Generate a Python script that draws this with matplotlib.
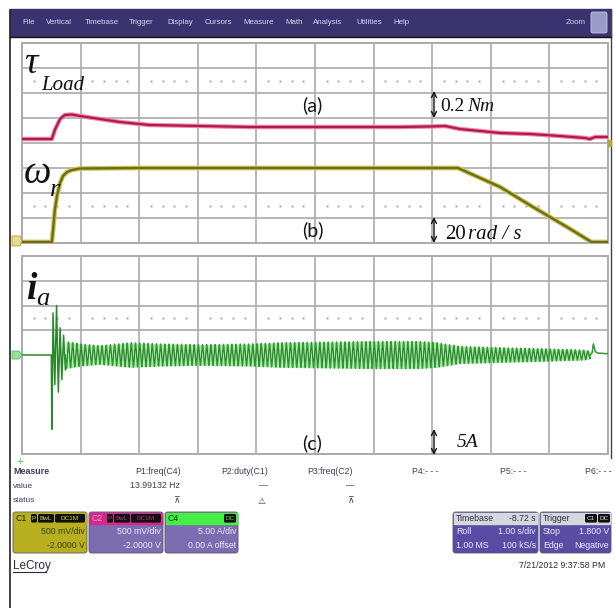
import numpy as np
import matplotlib
matplotlib.use('Agg')
import matplotlib.pyplot as plt
from matplotlib.patches import Rectangle, FancyBboxPatch, Polygon

# ---------------- data (time in s, trace values in screen divisions) ----------------
load_t = [0.00, 0.51, 0.56, 0.65, 0.73, 0.85, 0.99, 1.33, 1.67, 2.18, 3.04, 3.89, 4.74,
          5.60, 6.45, 6.96, 7.22, 7.47, 7.82, 8.16, 8.67, 9.18, 9.61, 9.69, 9.78, 10.0]
load_v = [4.16, 4.16, 4.52, 4.96, 5.12, 5.14, 5.08, 4.96, 4.84, 4.72, 4.68, 4.64, 4.64,
          4.64, 4.64, 4.66, 4.68, 4.56, 4.48, 4.40, 4.36, 4.28, 4.20, 4.16, 4.24, 4.24]

speed_t = [0.00, 0.51, 0.53, 0.56, 0.60, 0.65, 0.70, 0.77, 0.85, 0.99, 2.0, 4.0, 6.0,
           7.44, 8.16, 8.72, 9.30, 9.69, 9.72, 10.0]
speed_v = [0.04, 0.04, 0.52, 1.32, 1.92, 2.40, 2.68, 2.84, 2.92, 2.98, 3.0, 3.0, 3.0,
           3.0, 2.24, 1.44, 0.64, 0.08, 0.04, 0.04]

ia_freq = 13.99132  # Hz, P1:freq(C4) readout
ia_env_t = [0.74, 1.0, 1.33, 1.85, 2.36, 3.04, 3.89, 4.40, 5.08, 5.94, 6.79, 7.08,
            7.47, 8.16, 9.01, 9.61, 9.70]
ia_env_a = [0.55, 0.45, 0.38, 0.50, 0.45, 0.42, 0.45, 0.50, 0.52, 0.55, 0.55, 0.50,
            0.35, 0.30, 0.25, 0.20, 0.15]
ia_start_t = [0.00, 0.50, 0.51, 0.53, 0.56, 0.59, 0.62, 0.65, 0.68, 0.71, 0.74]
ia_start_v = [0.00, 0.00, -3.0, 1.7, -1.2, 2.0, -1.5, 1.1, -1.0, 0.8, -0.6]
ia_end_t = [9.70, 9.73, 9.75, 9.78, 9.82, 10.0]
ia_end_v = [0.00, 0.10, 0.45, 0.15, 0.08, 0.05]

menu_items = ['File', 'Vertical', 'Timebase', 'Trigger', 'Display', 'Cursors', 'Measure',
              'Math', 'Analysis', 'Utilities', 'Help']
meas_headers = ['P1:freq(C4)', 'P2:duty(C1)', 'P3:freq(C2)', 'P4:- - -', 'P5:- - -', 'P6:- - -']
meas_values = ['13.99132 Hz', '—', '—', '', '', '']

# ---------------- figure ----------------
W, H = 615, 608
fig = plt.figure(figsize=(W / 100, H / 100), dpi=100)
fig.patch.set_facecolor('white')

GRID = '#aaaaaa'
DOT = '#a8a8a8'


def grid_axes(y0, y1):
    ax = fig.add_axes([22 / W, 1 - y1 / H, (608 - 22) / W, (y1 - y0) / H], zorder=1)
    ax.set_xlim(0, 10)
    ax.set_ylim(0, 8)
    ax.set_xticks([])
    ax.set_yticks([])
    for s in ax.spines.values():
        s.set_color(GRID)
        s.set_linewidth(1.4)
    for x in range(1, 10):
        ax.axvline(x, color=GRID, lw=1.2, zorder=0)
    for y in range(1, 8):
        ax.axhline(y, color=GRID, lw=1.2, zorder=0)
    xs = np.array([x for x in np.arange(0.2, 10, 0.2) if abs(x - round(x)) > 0.05])
    for yd in (1.5, 6.5):
        ax.plot(xs, np.full_like(xs, yd), ls='none', marker='s', ms=1.5, color=DOT,
                mec='none', zorder=0)
    return ax


ax1 = grid_axes(43, 243)
ax2 = grid_axes(256, 454)
ax2.set_ylim(-4, 4)

# top traces
ax1.plot(load_t, load_v, color='#ec86aa', lw=3.2, solid_joinstyle='round', zorder=2)
ax1.plot(load_t, load_v, color='#b3184c', lw=1.6, solid_joinstyle='round', zorder=3)
ax1.plot(speed_t, speed_v, color='#c9c65a', lw=3.4, solid_joinstyle='round', zorder=2)
ax1.plot(speed_t, speed_v, color='#6f6c14', lw=1.7, solid_joinstyle='round', zorder=3)

# current trace
t = np.linspace(0.74, 9.70, 24000)
env = np.interp(t, ia_env_t, ia_env_a)
ia = env * np.sin(2 * np.pi * ia_freq * (t - 0.74) + np.pi)
ax2.fill_between(t, -env, env, color='#7fd07f', alpha=0.55, lw=0, zorder=2)
ax2.plot(ia_start_t, ia_start_v, color='#2a8a2a', lw=1.1, zorder=3)
ax2.plot(t, ia, color='#2c9c2c', lw=0.9, zorder=3)
ax2.plot(t, ia * 0.5, color='#1d661d', lw=0.5, alpha=0.55, zorder=3)
ax2.plot(ia_end_t, ia_end_v, color='#2e9a2e', lw=1.1, zorder=3)

# ---------------- overlay (pixel coordinates) ----------------
ov = fig.add_axes([0, 0, 1, 1], zorder=5)
ov.patch.set_alpha(0)
ov.set_xlim(0, W)
ov.set_ylim(H, 0)
ov.axis('off')

# outer border + menu bar
ov.plot([10, 10], [10, 608], color='#222222', lw=1.2)
ov.plot([611, 611], [10, 458], color='#444444', lw=1.0)
ov.add_patch(Rectangle((10, 9), 601, 27, color='#3b3270', zorder=1))
ov.plot([10, 611], [36.5, 36.5], color='#111111', lw=1.0)
menu_x = [22, 46, 85, 129, 167, 205, 243, 285, 313, 356, 393]
for mx, m in zip(menu_x, menu_items):
    ov.text(mx, 22.5, m, fontsize=5.7, color='#d8d8ee', va='center', ha='left',
            family='Liberation Sans')
ov.text(566, 22.5, 'Zoom', fontsize=5.7, color='#d8d8ee', va='center', ha='left',
        family='Liberation Sans')
ov.add_patch(FancyBboxPatch((591, 12), 16, 21, boxstyle='round,pad=0,rounding_size=2',
                            fc='#9a9ac8', ec='#c8c8e8', lw=0.6, zorder=2))

# trace labels
SERIF = 'Liberation Serif'
ov.text(24, 73, 'τ', fontsize=27, style='italic', family=SERIF, color='#111111')
ov.text(41, 90, 'Load', fontsize=15, style='italic', family=SERIF, color='#111111')
ov.text(24, 183, 'ω', fontsize=28, style='italic', family=SERIF, color='#111111')
ov.text(50, 196, 'r', fontsize=19, style='italic', family=SERIF, color='#111111')
ov.text(26, 299, 'i', fontsize=27, style='italic', weight='bold', family=SERIF, color='#111111')
ov.text(36, 305, 'a', fontsize=19, style='italic', family=SERIF, color='#111111')

SANS = 'Lato'
ov.text(302, 111, '(a)', fontsize=14, family=SANS, color='#111111')
ov.text(302, 236, '(b)', fontsize=14, family=SANS, color='#111111')
ov.text(302, 449, '(c)', fontsize=14, family=SANS, color='#111111')


def vscale(y0, y1):
    ov.annotate('', xy=(434, y0), xytext=(434, y1),
                arrowprops=dict(arrowstyle='<->', lw=1.0, color='#111111',
                                shrinkA=0, shrinkB=0, mutation_scale=9))


vscale(91, 118)
ov.text(440, 111, '0.2', fontsize=14, family=SERIF, color='#111111')
ov.text(467, 111, 'Nm', fontsize=14, style='italic', family=SERIF, color='#111111')
vscale(217, 243)
ov.text(445, 239, '20', fontsize=15, family=SERIF, color='#111111')
ov.text(468, 239, 'rad / s', fontsize=15, style='italic', family=SERIF, color='#111111')
vscale(429, 455)
ov.text(457, 447, '5A', fontsize=14, style='italic', family=SERIF, color='#111111')

# channel markers on the grid edge (ground symbol drawn as a shape)
ov.add_patch(Polygon([(12, 236), (20, 236), (22, 241), (20, 246), (12, 246)],
                     closed=True, fc='#e6dc8c', ec='#b0a030', lw=0.6, zorder=2))
ov.add_patch(Polygon([(12, 351), (19, 351), (22, 355), (19, 359), (12, 359)],
                     closed=True, fc='#9ade9a', ec='#5cbc5c', lw=0.6, zorder=2))
ov.add_patch(Rectangle((608, 140), 3, 6, color='#b0aa30', zorder=2))
ov.text(20, 461, '+', fontsize=6, color='#3cc03c', ha='center', va='center')

# measure table
UI = 'Liberation Sans'
TXT = '#3c3c58'
ov.text(13, 471, 'Measure', fontsize=6.4, weight='bold', color=TXT, va='center', family=UI)
ov.text(13, 486, 'value', fontsize=6, color=TXT, va='center', family=UI)
ov.text(13, 501, 'status', fontsize=6, color=TXT, va='center', family=UI)
head_x = [158, 245, 330, 425, 513, 598]
val_x = [155, 263, 350, 425, 513, 598]
stat = ['⊼', '⚠', '⊼', '', '', '']
stat_x = [176, 262, 350, 0, 0, 0]
for hx, vx, hd, vv, st, sx in zip(head_x, val_x, meas_headers, meas_values, stat, stat_x):
    ov.text(hx, 471, hd, fontsize=6.3, color=TXT, ha='center', va='center', family=UI)
    if vv:
        ov.text(vx, 486, vv, fontsize=6.3, color=TXT, ha='center', va='center', family=UI)
    if st:
        ov.text(sx, 501, st, fontsize=6.5, color=TXT, ha='center', va='center',
                family='DejaVu Sans')


def box(x0, x1, head_c, body_c):
    ov.add_patch(FancyBboxPatch((x0, 512), x1 - x0, 41,
                                boxstyle='round,pad=0,rounding_size=2.5',
                                fc=body_c, ec='#555566', lw=0.6, zorder=1))
    ov.add_patch(Rectangle((x0 + 0.8, 512.8), x1 - x0 - 1.6, 11, color=head_c, zorder=2))


def tag(x0, x1, s, col, y=518.3):
    ov.add_patch(FancyBboxPatch((x0, y - 4.3), x1 - x0, 8.6,
                                boxstyle='round,pad=0,rounding_size=1.5',
                                fc='#111111', ec='none', zorder=3))
    ov.text((x0 + x1) / 2, y, s, fontsize=4.6, color=col, ha='center', va='center',
            family=UI, zorder=4)


# C1
box(13, 87, '#b8b01e', '#b8b01e')
ov.text(16, 518.3, 'C1', fontsize=6.3, color='#222200', va='center', family=UI, zorder=4)
tag(31, 37, 'P', '#d8d040')
tag(38, 54, 'BwL', '#d8d040')
tag(55, 85, 'DC1M', '#d8d040')
ov.text(85, 531, '500 mV/div', fontsize=6.3, color='#3a3a08', ha='right', va='center', family=UI, zorder=4)
ov.text(85, 545, '-2.0000 V', fontsize=6.3, color='#3a3a08', ha='right', va='center', family=UI, zorder=4)
# C2
box(89, 163, '#d4288a', '#7c6db0')
ov.text(92, 518.3, 'C2', fontsize=6.3, color='#ff9ad0', va='center', family=UI, zorder=4)
tag(107, 113, 'P', '#c0307a')
tag(114, 130, 'BwL', '#c0307a')
tag(131, 161, 'DC1M', '#c0307a')
ov.text(161, 531, '500 mV/div', fontsize=6.3, color='#f0e8ff', ha='right', va='center', family=UI, zorder=4)
ov.text(161, 545, '-2.0000 V', fontsize=6.3, color='#f0e8ff', ha='right', va='center', family=UI, zorder=4)
# C4
box(165, 238, '#44ee44', '#7c6db0')
ov.text(168, 518.3, 'C4', fontsize=6.3, color='#0a3a0a', va='center', family=UI, zorder=4)
tag(224, 236, 'DC', '#44ee44')
ov.text(236, 531, '5.00 A/div', fontsize=6.3, color='#f0e8ff', ha='right', va='center', family=UI, zorder=4)
ov.text(236, 545, '0.00 A offset', fontsize=6.3, color='#f0e8ff', ha='right', va='center', family=UI, zorder=4)
# Timebase
box(453, 538, '#d6d6de', '#5a4ca4')
ov.text(456, 518.3, 'Timebase', fontsize=6.3, color='#303040', va='center', family=UI, zorder=4)
ov.text(536, 518.3, '-8.72 s', fontsize=6.3, color='#303040', ha='right', va='center', family=UI, zorder=4)
ov.text(456, 531, 'Roll', fontsize=6.3, color='#f0ecff', va='center', family=UI, zorder=4)
ov.text(536, 531, '1.00 s/div', fontsize=6.3, color='#f0ecff', ha='right', va='center', family=UI, zorder=4)
ov.text(456, 545, '1.00 MS', fontsize=6.3, color='#f0ecff', va='center', family=UI, zorder=4)
ov.text(536, 545, '100 kS/s', fontsize=6.3, color='#f0ecff', ha='right', va='center', family=UI, zorder=4)
# Trigger
box(540, 611, '#d6d6de', '#5a4ca4')
ov.text(543, 518.3, 'Trigger', fontsize=6.3, color='#303040', va='center', family=UI, zorder=4)
tag(585, 597, 'C1', '#e0e0e0')
tag(598, 610, 'DC', '#e0e0e0')
ov.text(543, 531, 'Stop', fontsize=6.3, color='#f0ecff', va='center', family=UI, zorder=4)
ov.text(609, 531, '1.800 V', fontsize=6.3, color='#f0ecff', ha='right', va='center', family=UI, zorder=4)
ov.text(543, 545, 'Edge', fontsize=6.3, color='#f0ecff', va='center', family=UI, zorder=4)
ov.text(609, 545, 'Negative', fontsize=6.3, color='#f0ecff', ha='right', va='center', family=UI, zorder=4)

# footer
ov.text(13, 566, 'LeCroy', fontsize=8.5, color='#2a2a3a', va='center', family=UI)
ov.plot([13, 46], [572, 572], color='#2a2a3a', lw=0.8)
ov.text(605, 566, '7/21/2012 9:37:58 PM', fontsize=6.3, color='#2a2a3a', ha='right',
        va='center', family=UI)

fig.savefig('out.png', dpi=100, facecolor='white')
